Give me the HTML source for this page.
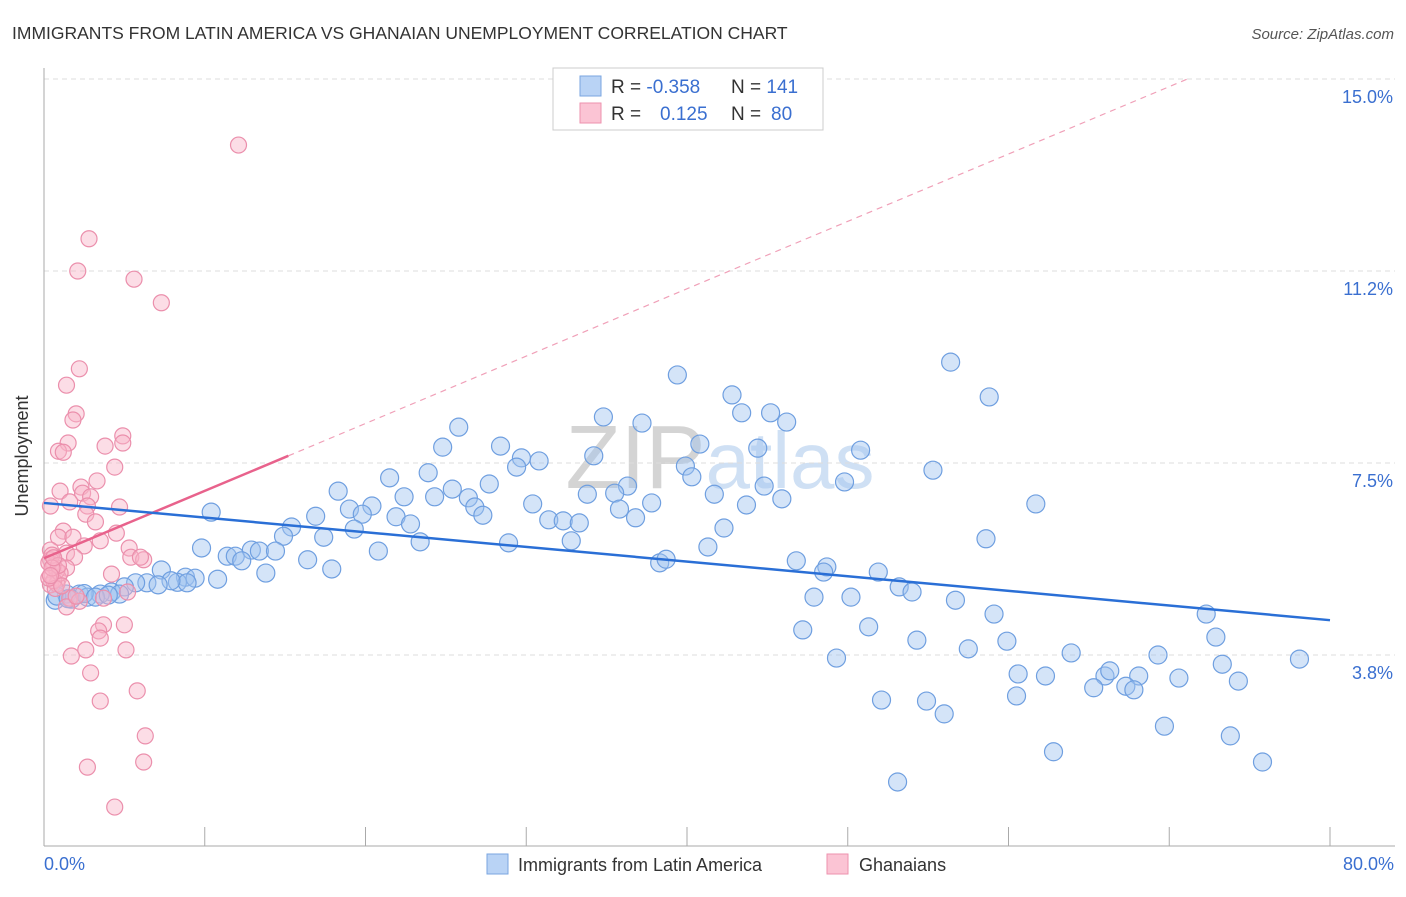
<!DOCTYPE html>
<html><head><meta charset="utf-8"><style>
body{margin:0;background:#fff;font-family:"Liberation Sans",sans-serif;}
svg text{font-family:"Liberation Sans",sans-serif;}
</style></head><body>
<svg id="chart" width="1406" height="892" viewBox="0 0 1406 892">
<text x="12" y="39" font-size="17.5" fill="#333">IMMIGRANTS FROM LATIN AMERICA VS GHANAIAN UNEMPLOYMENT CORRELATION CHART</text>
<text x="1394" y="39" font-size="15" fill="#555" font-style="italic" text-anchor="end">Source: ZipAtlas.com</text>
<text x="720" y="488" font-size="90" fill="#d8d8d8" text-anchor="middle" font-family="Liberation Serif"><tspan fill="#d4d4d4">ZIP</tspan><tspan fill="#cfe0f4" font-family="Liberation Sans" font-size="80">atlas</tspan></text>
<g id="grid"></g>
<g id="axes"></g>
<g id="blue"></g>
<g id="pink"></g>
<g id="trends"></g>
<text x="28" y="456" font-size="18" fill="#333" text-anchor="middle" transform="rotate(-90 28 456)">Unemployment</text>
<text x="44" y="870" font-size="18" fill="#3a6fd0">0.0%</text>
<text x="1394" y="870" font-size="18" fill="#3a6fd0" text-anchor="end">80.0%</text>
<g>
<rect x="553" y="68" width="270" height="62" fill="#fff" stroke="#ccc"/>
<rect x="580" y="76" width="21" height="20" fill="#b9d3f5" stroke="#7aa6e0"/>
<rect x="580" y="103" width="21" height="20" fill="#fbc4d4" stroke="#ee92ae"/>
<text x="611" y="93" font-size="19" fill="#333">R = <tspan fill="#3a6fd0">-0.358</tspan></text>
<text x="731" y="93" font-size="19" fill="#333">N = <tspan fill="#3a6fd0">141</tspan></text>
<text x="611" y="120" font-size="19" fill="#333">R = <tspan fill="#3a6fd0" x="660">0.125</tspan></text>
<text x="731" y="120" font-size="19" fill="#333">N = <tspan fill="#3a6fd0" x="771">80</tspan></text>
</g>
<g>
<rect x="487" y="854" width="21" height="20" fill="#b9d3f5" stroke="#7aa6e0"/>
<text x="518" y="871" font-size="18" fill="#333">Immigrants from Latin America</text>
<rect x="827" y="854" width="21" height="20" fill="#fbc4d4" stroke="#ee92ae"/>
<text x="859" y="871" font-size="18" fill="#333">Ghanaians</text>
</g>
</svg>
<script>
const yTicks=[3.75,7.5,11.25,15];
const yTickLabels=["3.8%","7.5%","11.2%","15.0%"];
const xTicks=[0,10,20,30,40,50,60,70,80];
const blueX=[39.4,56.4,58.8,42.8,43.4,45.2,46.2,34.8,37.2,25.8,24.8,28.4,29.7,29.4,30.8,34.2,40.8,44.4,50.8,39.9,40.3,55.3,49.8,21.5,23.9,27.7,18.3,25.4,26.4,24.3,22.4,36.3,35.5,33.8,41.7,44.8,45.9,37.8,35.8,30.4,26.8,27.3,20.4,19.0,19.8,16.9,21.9,22.8,10.4,61.7,43.7,36.8,31.4,32.3,33.3,19.3,15.4,14.9,17.4,23.4,28.9,32.8,42.3,41.3,58.6,9.8,11.4,11.9,12.9,13.4,14.4,12.3,20.8,16.4,13.8,17.9,38.3,38.7,46.8,48.7,48.5,51.9,7.3,8.8,9.4,10.8,8.3,8.9,7.9,6.4,7.1,5.7,5.0,4.2,3.5,2.2,1.4,0.7,1.7,2.7,4.7,53.2,54.0,47.9,50.2,56.7,59.1,72.3,72.9,47.2,51.3,54.3,57.5,59.9,49.3,63.9,69.3,73.3,78.1,60.6,62.3,66.0,66.3,68.1,70.6,74.3,65.3,67.3,67.8,60.5,52.1,54.9,56.0,69.7,73.8,62.8,75.8,53.1,0.8,1.5,2.5,3.2,4.0];
const blueY=[9.22,9.47,8.79,8.83,8.48,8.48,8.30,8.40,8.28,8.20,7.81,7.83,7.60,7.42,7.54,7.64,7.87,7.79,7.75,7.44,7.23,7.36,7.13,7.21,7.31,7.09,6.95,6.99,6.82,6.84,6.84,7.05,6.91,6.89,6.89,7.05,6.80,6.72,6.60,6.70,6.64,6.48,6.66,6.60,6.50,6.46,6.45,6.31,6.54,6.70,6.68,6.43,6.39,6.37,6.33,6.21,6.25,6.07,6.05,5.96,5.94,5.98,6.23,5.86,6.02,5.84,5.68,5.68,5.80,5.78,5.78,5.59,5.78,5.61,5.35,5.43,5.55,5.62,5.59,5.47,5.37,5.37,5.41,5.27,5.25,5.23,5.17,5.16,5.20,5.16,5.12,5.16,5.08,4.98,4.94,4.94,4.94,4.82,4.84,4.88,4.94,5.08,4.98,4.88,4.88,4.82,4.55,4.55,4.10,4.24,4.30,4.04,3.87,4.02,3.69,3.79,3.75,3.57,3.67,3.38,3.34,3.34,3.44,3.34,3.30,3.24,3.11,3.14,3.07,2.95,2.87,2.85,2.60,2.36,2.17,1.86,1.66,1.27,4.90,4.85,4.95,4.88,4.92];
const pinkX=[12.1,2.8,2.1,5.6,7.3,2.2,1.4,2.0,1.8,4.9,1.5,4.9,3.8,0.9,1.2,4.4,3.3,2.3,1.0,2.4,2.9,1.6,0.4,4.7,2.7,2.6,3.2,1.2,4.5,0.9,1.8,3.5,2.5,0.4,5.3,1.4,1.9,5.4,6.2,6.0,0.4,0.6,1.4,0.5,0.9,4.2,0.4,0.8,5.2,1.6,2.2,3.7,1.4,3.7,3.4,5.0,3.5,2.6,5.1,1.7,2.9,5.8,3.5,6.3,2.7,6.2,4.4,0.8,0.3,0.6,1.0,0.5,0.7,0.9,0.3,1.1,2.0,0.5,0.6,0.4];
const pinkY=[13.71,11.88,11.25,11.09,10.63,9.34,9.02,8.46,8.34,8.03,7.89,7.89,7.83,7.73,7.71,7.42,7.15,7.03,6.95,6.91,6.84,6.74,6.66,6.64,6.66,6.50,6.35,6.17,6.13,6.05,6.05,5.98,5.88,5.80,5.84,5.74,5.66,5.66,5.61,5.66,5.61,5.49,5.45,5.31,5.25,5.33,5.12,5.14,4.98,4.86,4.80,4.86,4.69,4.34,4.22,4.34,4.08,3.85,3.85,3.73,3.40,3.05,2.85,2.17,1.56,1.66,0.78,5.40,5.55,5.20,5.35,5.70,5.05,5.50,5.25,5.10,4.90,5.45,5.65,5.30];
const blueTrend=[6.72,4.43];
const pinkTrend=[5.64,7.64];
const pinkTrendEndX=15.2;
const X=v=>44+v*16.075;
const Y=v=>847-v*51.2;
const NS="http://www.w3.org/2000/svg";
function mk(tag,parent,attrs){const e=document.createElementNS(NS,tag);for(const k in attrs)e.setAttribute(k,attrs[k]);parent.appendChild(e);return e;}
const grid=document.getElementById('grid');
yTicks.forEach((t,i)=>{
 const l=mk('line',grid,{x1:44,x2:1395,y1:Y(t),y2:Y(t),stroke:'#ddd','stroke-dasharray':'5,4'});
 
 
 const tx=mk('text',grid,{x:1393,y:Y(t)+24,'font-size':18,fill:'#3a6fd0','text-anchor':'end'});
 tx.textContent=yTickLabels[i];
 
 
});
const axes=document.getElementById('axes');
const ya=mk('line',axes,{x1:44,x2:44,y1:68,y2:846,stroke:'#aaa'});


const xa=mk('line',axes,{x1:44,x2:1395,y1:846,y2:846,stroke:'#aaa'});


xTicks.forEach(t=>{
 const l=mk('line',axes,{x1:X(t),x2:X(t),y1:827,y2:846,stroke:'#aaa'});
 
 
});
const bg=document.getElementById('blue');
blueX.forEach((v,i)=>{
 const c=mk('circle',bg,{cx:X(v),cy:Y(blueY[i]),r:9,fill:'rgba(160,196,240,0.45)',stroke:'#6f9fe0','stroke-width':1.2});
 
 
});
const pg=document.getElementById('pink');
pinkX.forEach((v,i)=>{
 const c=mk('circle',pg,{cx:X(v),cy:Y(pinkY[i]),r:8,fill:'rgba(248,180,200,0.45)',stroke:'#eb8fac','stroke-width':1.2});
 
 
});
const tg=document.getElementById('trends');
const slope=(pinkTrend[1]-pinkTrend[0])/pinkTrendEndX;
const xEnd=(15-pinkTrend[0])/slope;
const pd=mk('line',tg,{x1:X(pinkTrendEndX),y1:Y(pinkTrend[1]),x2:X(xEnd),y2:Y(15),stroke:'#f0a0b8','stroke-width':1.2,'stroke-dasharray':'6,5'});


const pl=mk('line',tg,{x1:X(0),y1:Y(pinkTrend[0]),x2:X(pinkTrendEndX),y2:Y(pinkTrend[1]),stroke:'#e8628c','stroke-width':2.5});


const bl=mk('line',tg,{x1:X(0),y1:Y(blueTrend[0]),x2:X(80),y2:Y(blueTrend[1]),stroke:'#2a6fd6','stroke-width':2.5});


</script>
</body></html>
